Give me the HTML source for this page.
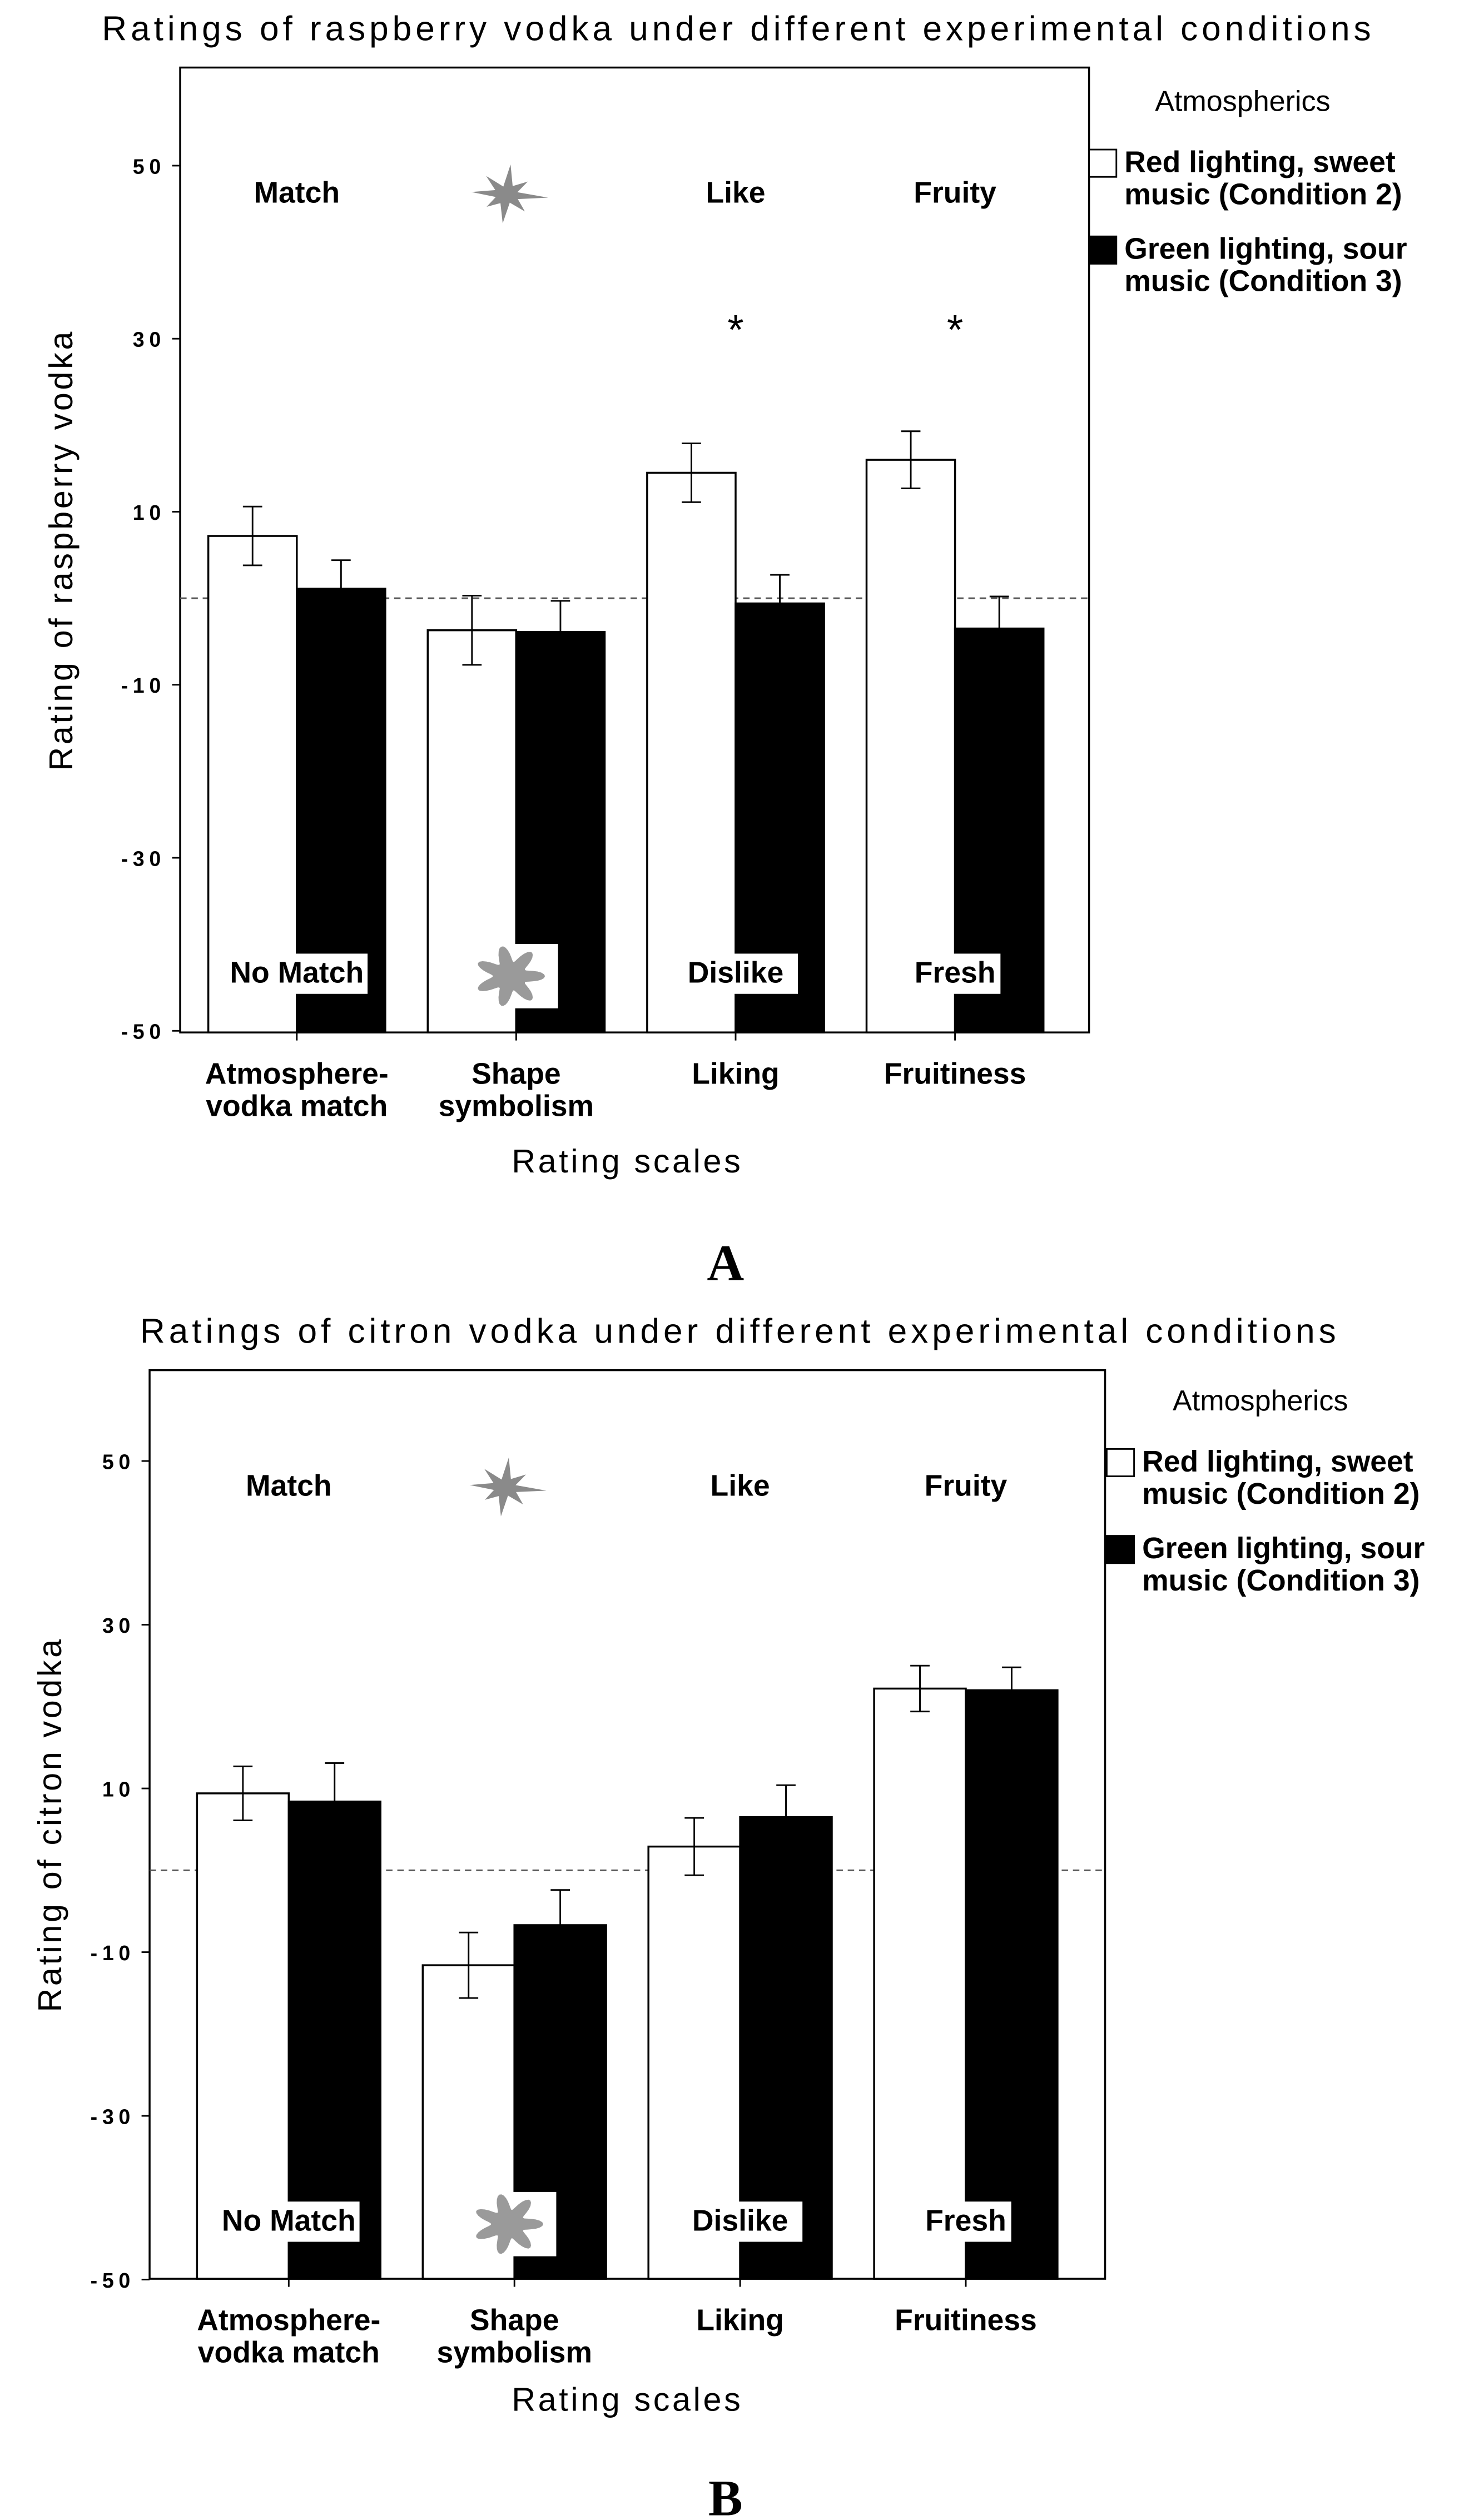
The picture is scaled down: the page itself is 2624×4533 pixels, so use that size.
<!DOCTYPE html>
<html><head><meta charset="utf-8"><style>
html,body{margin:0;padding:0;background:#fff}
svg{display:block}
text{font-family:"Liberation Sans",Arial,sans-serif;fill:#000}
.b{font-weight:bold;font-size:18.5px}
.t{font-size:20.5px;letter-spacing:1.6px}
.tt{font-size:21.5px;letter-spacing:2.4px}
.k{font-weight:bold;font-size:13px;letter-spacing:3px}
.p{font-family:"Liberation Serif",serif;font-weight:bold;font-size:32px}
</style></head><body>
<svg id="s" width="2624" height="4533" viewBox="0 0 907 1567" preserveAspectRatio="none" xmlns="http://www.w3.org/2000/svg"></svg>
<script>
const categories=["Atmosphere-|vodka match","Shape|symbolism","Liking","Fruitiness"];
const ticks=[50,30,10,-10,-30,-50];
const rasWhite=[7.2,-3.7,14.5,16.0];
const rasBlack=[1.1,-3.9,-0.6,-3.5];
const rasWhiteErr=[3.4,4.0,3.4,3.3];
const rasBlackErr=[3.3,3.6,3.3,3.7];
const citWhite=[9.4,-11.6,2.9,22.2];
const citBlack=[8.4,-6.7,6.5,22.0];
const citWhiteErr=[3.3,4.0,3.5,2.8];
const citBlackErr=[4.7,4.3,3.9,2.8];
const topLabels=["Match","","Like","Fruity"];
const botLabels=["No Match","","Dislike","Fresh"];

const S=document.getElementById('s');
const NS='http://www.w3.org/2000/svg';
function el(t,a,txt){const e=document.createElementNS(NS,t);for(const k in a)e.setAttribute(k,a[k]);if(txt!==undefined)e.textContent=txt;S.appendChild(e);return e;}

function star(cx,cy,name){
  let p=[];const rs=[26,8,18,7,24,8,16,7,22,8,20,7,25,8,17,7];
  for(let i=0;i<16;i++){const r=rs[i];const a=i*Math.PI/8+0.1;p.push((cx+r*Math.cos(a)).toFixed(1)+','+(cy+r*Math.sin(a)*0.75).toFixed(1));}
  const e=el('polygon',{points:p.join(' '),fill:'#8a8a8a'});
  
}
function blob(cx,cy,name){
  let p=[];for(let i=0;i<=100;i++){const a=i/100*2*Math.PI;const r=9+10*Math.pow(Math.abs(Math.cos(3.5*a)),2);p.push((i?'L':'M')+(cx+r*1.15*Math.cos(a)).toFixed(1)+','+(cy+r*Math.sin(a)).toFixed(1));}
  const e=el('path',{d:p.join('')+'Z',fill:'#9a9a9a'});
  
}

function chart(o){
  const y=v=>o.y0-(v*o.unit/20);
  const f=el('rect',{x:o.L,y:o.T,width:o.R-o.L,height:o.B-o.T,fill:'none',stroke:'#000','stroke-width':1.2});
  
  const t=el('text',{x:o.titleX,y:o.T-17,'text-anchor':'middle',class:'tt'},o.title);
  
  ticks.forEach(v=>{
    const yy=y(v);
    el('line',{x1:o.L-5,x2:o.L,y1:yy,y2:yy,stroke:'#000'});
    const tl=el('text',{x:o.L-9,y:yy+5,'text-anchor':'end',class:'k'},(v<0?'-':'')+Math.abs(v));
    
  });
  const yt=el('text',{x:0,y:0,class:'t','text-anchor':'middle',transform:`translate(${o.ytX},${(o.T+o.B)/2}) rotate(-90)`},o.ytitle);
  
  el('line',{x1:o.L,x2:o.R,y1:y(0),y2:y(0),stroke:'#555','stroke-dasharray':'4,3','stroke-width':1});
  categories.forEach((c,i)=>{
    const cx=o.c0+o.gap*i;
    el('line',{x1:cx,x2:cx,y1:o.B,y2:o.B+5,stroke:'#000'});
    c.split('|').forEach((ln,j)=>{
      const tx=el('text',{x:cx,y:o.B+32+j*20,'text-anchor':'middle',class:'b'},ln);
      
    });
    [[o.w[i],o.we[i],'#fff',-1],[o.k[i],o.ke[i],'#000',0]].forEach(([v,e,fill,off],s)=>{
      const bx=cx+off*o.bw;
      const r=el('rect',{x:bx,y:Math.min(y(v),o.B),width:o.bw,height:Math.abs(o.B-y(v)),fill:fill,stroke:'#000','stroke-width':1.2});
      
      const ex=bx+o.bw/2;
      el('line',{x1:ex,x2:ex,y1:y(v+e),y2:y(v-e),stroke:'#000'});
      el('line',{x1:ex-6,x2:ex+6,y1:y(v+e),y2:y(v+e),stroke:'#000'});
      el('line',{x1:ex-6,x2:ex+6,y1:y(v-e),y2:y(v-e),stroke:'#000'});
    });
    if(topLabels[i]){const a=el('text',{x:cx,y:o.topLblY,'text-anchor':'middle',class:'b'},topLabels[i]);}
    if(botLabels[i]){
      const w=botLabels[i].length*10.5+4;
      el('rect',{x:cx-w/2,y:o.botLblY-18,width:w,height:25,fill:'#fff'});
      const a=el('text',{x:cx,y:o.botLblY,'text-anchor':'middle',class:'b'},botLabels[i]);
    } else {
      el('rect',{x:cx-26,y:o.botLblY-24,width:52,height:40,fill:'#fff'});
      blob(cx-4,o.botLblY-4,'round-shape-icon');
      star(cx-6,o.topLblY-5,'spiky-shape-icon');
    }
  });
  (o.stars||[]).forEach(i=>{const a=el('text',{x:o.c0+o.gap*i,y:o.starY,'text-anchor':'middle','font-size':'26px'},'*');});
  const xt=el('text',{x:o.xtX,y:o.B+o.xtDy,'text-anchor':'middle',class:'t'},'Rating scales');
  
  const at=el('text',{x:o.lgX+41,y:o.lgY,'font-size':'18px'},'Atmospherics');
  
  [['#fff','Red lighting, sweet','music (Condition 2)',24],['#000','Green lighting, sour','music (Condition 3)',78]].forEach(([c,a,b,dy],i)=>{
    const r=el('rect',{x:o.lgX,y:o.lgY+dy,width:17,height:17,fill:c,stroke:'#000'});
    
    const t1=el('text',{x:o.lgX+22,y:o.lgY+dy+14,class:'b'},a);
    const t2=el('text',{x:o.lgX+22,y:o.lgY+dy+34,class:'b'},b);
  });
  const p=el('text',{x:451,y:o.pY,'text-anchor':'middle',class:'p'},o.panel);
  
}
chart({L:112,R:677,T:42,B:642,y0:372,unit:107.6,bw:55,c0:184.5,gap:136.4,w:rasWhite,k:rasBlack,we:rasWhiteErr,ke:rasBlackErr,
  title:'Ratings of raspberry vodka under different experimental conditions',ytitle:'Rating of raspberry vodka',titleX:459,ytX:45,xtX:390,xtDy:87,
  topLblY:126,botLblY:611,stars:[2,3],starY:214,lgX:677,lgY:69,panel:'A',pY:796});
chart({L:93,R:687,T:852,B:1417,y0:1163,unit:101.8,bw:57,c0:179.5,gap:140.3,w:citWhite,k:citBlack,we:citWhiteErr,ke:citBlackErr,
  title:'Ratings of citron vodka under different experimental conditions',ytitle:'Rating of citron vodka',titleX:460,ytX:38,xtX:390,xtDy:82,
  topLblY:930,botLblY:1387,stars:[],lgX:688,lgY:877,panel:'B',pY:1564});
</script>
</body></html>
